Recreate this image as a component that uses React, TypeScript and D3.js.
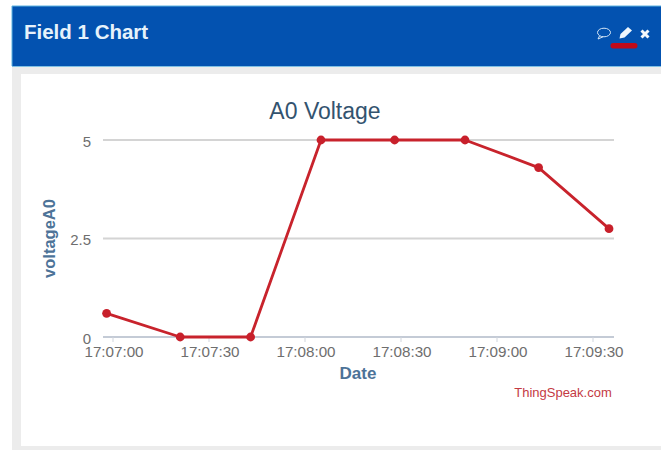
import React from "react";
import * as d3 from "d3";

const times = ["17:06:58", "17:07:21", "17:07:43", "17:08:05", "17:08:28", "17:08:50", "17:09:13", "17:09:35"];
const values = [0.6, 0, 0, 5, 5, 5, 4.3, 2.75];
const xTickLabels = ["17:07:00", "17:07:30", "17:08:00", "17:08:30", "17:09:00", "17:09:30"];
const yTicks = [0, 2.5, 5];

const parse = d3.timeParse("%H:%M:%S");
const fmt = d3.timeFormat("%H:%M:%S");
const font = "'Liberation Sans', Arial, sans-serif";

export default function App() {
  const x = d3.scaleTime()
    .domain([parse("17:07:00")!, parse("17:09:30")!])
    .range([113, 593]);
  const y = d3.scaleLinear().domain([0, 5]).range([337, 140]);
  const line = d3.line<number>()
    .x((_, i) => x(parse(times[i])!))
    .y((d) => y(d));
  const xTicks = xTickLabels.map((t) => parse(t)!);

  return (
    <svg
      width={661}
      height={450}
      viewBox="0 0 661 450"
      style={{ position: "fixed", left: 0, top: 0, display: "block" }}
      fontFamily={font}
    >
      <rect x={0} y={0} width={661} height={450} fill="#ffffff" />
      <rect x={12} y={6} width={649} height={444} fill="#ececec" />
      <rect x={21} y={74} width={640} height={372} fill="#ffffff" />
      <rect x={12} y={6} width={649} height={60.5} fill="#0352b0" />
      <line x1={12} x2={661} y1={6} y2={6} stroke="#5fb3e0" strokeWidth={1} />
      <line x1={12} x2={661} y1={66.5} y2={66.5} stroke="#7fc0e4" strokeWidth={1} />
      <line x1={12} x2={12} y1={6} y2={66} stroke="#5fb3e0" strokeWidth={1} />
      <text x={24} y={39} fontSize={20.5} fontWeight={700} fill="#e6f2fb">Field 1 Chart</text>

      <g>
        <ellipse cx={604} cy={32.5} rx={6.5} ry={4.3} fill="none" stroke="#d5e6f6" strokeWidth={1} />
        <path d="M599.5 36 L598 39 L603 36.8" fill="none" stroke="#d5e6f6" strokeWidth={1} />
        <path d="M619.5 38.5 L620.5 34 L628 27 L632 30.5 L624.5 37.5 Z" fill="#eef6fd" />
        <path d="M641.5 30.5 L648.5 37.5 M648.5 30.5 L641.5 37.5" stroke="#f2f7fc" strokeWidth={3} />
        <rect x={610.5} y={43} width={27} height={5.5} rx={2.7} fill="#c00a18" />
      </g>

      <text x={325} y={119} textAnchor="middle" fontSize={23} fill="#33536f">A0 Voltage</text>

      {yTicks.map((t) => (
        <g key={t}>
          <line x1={103} x2={614} y1={y(t)} y2={y(t)} stroke={t === 0 ? "#c4cbd6" : "#d4d4d4"} strokeWidth={2} />
          <text x={91} y={y(t) + 6.5} textAnchor="end" fontSize={15} fill="#6e6e6e">{t}</text>
        </g>
      ))}

      {xTicks.map((t) => (
        <g key={fmt(t)}>
          <line x1={x(t)} x2={x(t)} y1={337} y2={342} stroke="#d0d5dd" strokeWidth={1} />
          <text x={x(t) + 1} y={357} textAnchor="middle" fontSize={15.2} fill="#6e6e6e">{fmt(t)}</text>
        </g>
      ))}

      <text x={358} y={379} textAnchor="middle" fontSize={17} fontWeight={700} fill="#4d7398">Date</text>
      <text
        transform={`translate(55,238.5) rotate(-90)`}
        textAnchor="middle"
        fontSize={16.5}
        fontWeight={700}
        fill="#4d7398"
      >
        voltageA0
      </text>

      <path d={line(values) ?? ""} fill="none" stroke="#c8232c" strokeWidth={2.8} strokeLinejoin="round" />
      {values.map((v, i) => (
        <circle key={i} cx={x(parse(times[i])!)} cy={y(v)} r={4.4} fill="#c8202b" />
      ))}

      <text x={563} y={397} textAnchor="middle" fontSize={13} fill="#c43a44">ThingSpeak.com</text>
    </svg>
  );
}
